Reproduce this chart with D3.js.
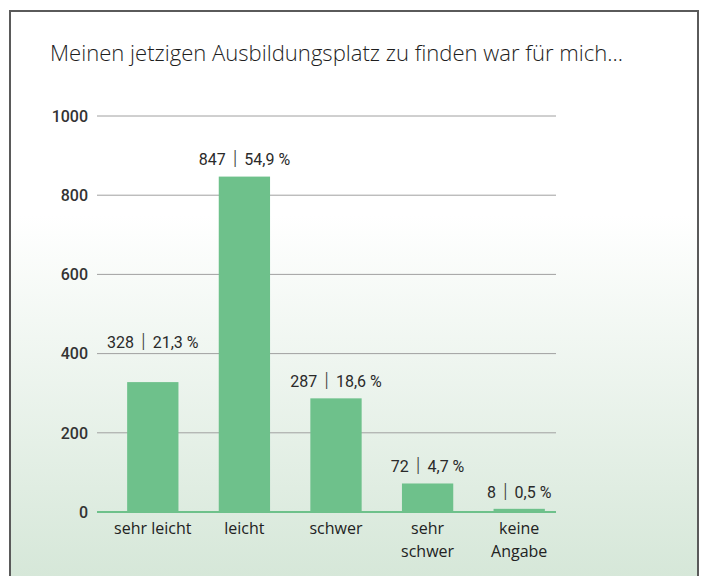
<!DOCTYPE html>
<html>
  <head>
    <meta charset="utf-8">
    <script src="https://d3js.org/d3.v7.min.js"></script>
    <style>
      body { margin: 0; background: #fff; }
      svg { display: block; }
      text { fill: #222; }
    </style>
  </head>
  <body>
    <svg id="chart" width="705" height="576"></svg>
    <script>
      // data
      const title = "Meinen jetzigen Ausbildungsplatz zu finden war für mich..."
      const categories = [["sehr leicht"], ["leicht"], ["schwer"], ["sehr", "schwer"], ["keine", "Angabe"]]
      const counts = [328, 847, 287, 72, 8]
      const shares = ["21,3", "54,9", "18,6", "4,7", "0,5"]
      const yTicks = [0, 200, 400, 600, 800, 1000]

      const svg = d3.select('#chart')

      // background gradient + frame
      const defs = svg.append('defs')
      const grad = defs.append('linearGradient').attr('id', 'bg')
        .attr('x1', 0).attr('y1', 0).attr('x2', 0).attr('y2', 1)
      grad.append('stop').attr('offset', '0.34').attr('stop-color', '#ffffff')
      grad.append('stop').attr('offset', '1').attr('stop-color', '#d2e5d5')

      svg.append('rect').attr('x', 10).attr('y', 11).attr('width', 688).attr('height', 600)
        .attr('fill', 'url(#bg)').attr('stroke', '#5a5a5a').attr('stroke-width', 2)

      // title, squeezed to the width it has in the picture
      svg.append('text')
        .attr('x', 50).attr('y', 61)
        .style('font-family', 'Open Sans, sans-serif')
        .style('font-weight', 300)
        .style('font-size', '22px')
        .style('fill', '#1e1e1e')
        .attr('textLength', 573).attr('lengthAdjust', 'spacingAndGlyphs')
        .text(title)

      const y = d3.scaleLinear().domain([0, 1000]).range([512, 116])
      const x = d3.scaleBand().domain(d3.range(counts.length))
        .range([107, 565]).paddingInner(0.44).paddingOuter(0.22)

      // gridlines
      svg.append('g').selectAll('line')
        .data(yTicks.filter(d => d > 0))
        .join('line')
          .attr('x1', 97).attr('x2', 556)
          .attr('y1', d => y(d)).attr('y2', d => y(d))
          .attr('stroke', '#a0a0a0').attr('stroke-width', 1)

      // y axis labels
      svg.append('g').selectAll('text')
        .data(yTicks)
        .join('text')
          .attr('x', 88).attr('y', d => y(d))
          .attr('dy', '0.36em')
          .attr('text-anchor', 'end')
          .style('font-family', 'Roboto, sans-serif')
          .style('font-weight', 500)
          .style('font-size', '16px')
          .style('fill', '#333')
          .text(d => d)

      // bars
      svg.append('g').selectAll('rect')
        .data(counts)
        .join('rect')
          .attr('x', (d, i) => x(i))
          .attr('width', x.bandwidth())
          .attr('y', d => y(d))
          .attr('height', d => y(0) - y(d))
          .attr('fill', '#6ec18b')

      // baseline
      svg.append('line')
        .attr('x1', 97).attr('x2', 556)
        .attr('y1', y(0)).attr('y2', y(0))
        .attr('stroke', '#6ec18b').attr('stroke-width', 2)

      // value labels; lift above a gridline if it sits just over the label
      function labelY(v) {
        let cy = y(v) - 17
        yTicks.forEach(tk => {
          const gy = y(tk)
          if (tk > 0 && gy < cy && cy - gy < 20) cy = gy - 11
        })
        return cy
      }
      const vl = svg.append('g').selectAll('text')
        .data(counts)
        .join('text')
          .attr('x', (d, i) => x(i) + x.bandwidth() / 2)
          .attr('y', d => labelY(d))
          .attr('dy', '0.36em')
          .attr('text-anchor', 'middle')
          .style('font-family', 'Roboto, sans-serif')
          .style('font-size', '16px')
          .style('fill', '#2a2a2a')
      vl.append('tspan').text(d => d)
      vl.append('tspan').attr('dx', 7).text('|')
        .style('font-family', 'Roboto, sans-serif')
        .style('font-weight', 300).style('font-size', '21px').style('fill', '#444')
      vl.append('tspan').attr('dx', 7).text((d, i) => shares[i] + ' %')

      // category labels
      const cl = svg.append('g').selectAll('text')
        .data(categories)
        .join('text')
          .attr('x', (d, i) => x(i) + x.bandwidth() / 2)
          .attr('y', 534)
          .attr('text-anchor', 'middle')
          .style('font-family', 'Open Sans, sans-serif')
          .style('font-size', '16px')
          .style('fill', '#222')
      cl.selectAll('tspan')
        .data(d => d)
        .join('tspan')
          .attr('x', function () { return this.parentNode.getAttribute('x') })
          .attr('dy', (d, i) => i === 0 ? 0 : 23)
          .text(d => d)
    </script>
  </body>
</html>
